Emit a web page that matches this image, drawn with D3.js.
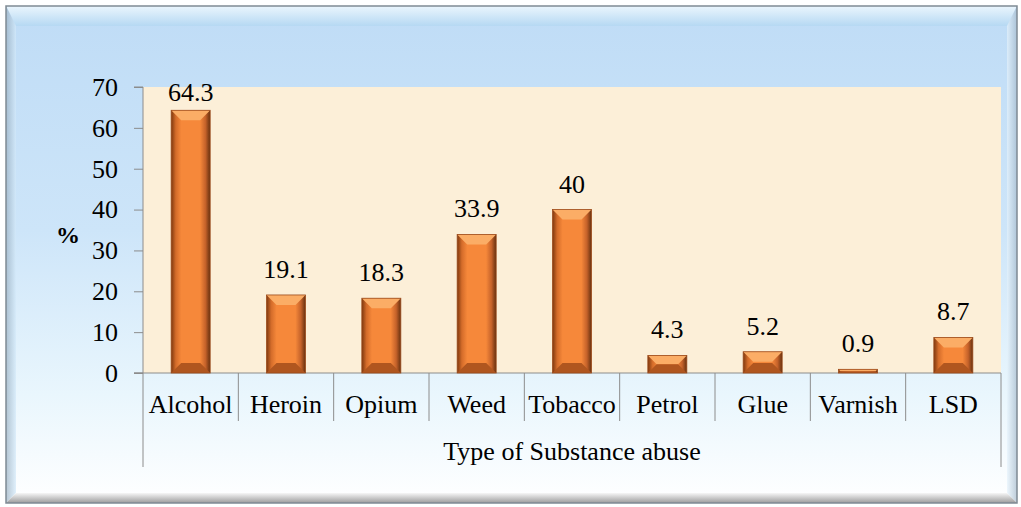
<!DOCTYPE html>
<html>
<head>
<meta charset="utf-8">
<script src="https://cdn.jsdelivr.net/npm/d3@7"></script>
<style>
  body { margin: 0; background: #fff; }
  text { font-family: "Liberation Serif", "Times New Roman", serif; fill: #000; }
</style>
</head>
<body>
<svg id="chart" width="1021" height="507"></svg>
<script>
// data
var categories = ["Alcohol", "Heroin", "Opium", "Weed", "Tobacco", "Petrol", "Glue", "Varnish", "LSD"];
var values = [64.3, 19.1, 18.3, 33.9, 40, 4.3, 5.2, 0.9, 8.7];
var yTicks = [0, 10, 20, 30, 40, 50, 60, 70];

var margin = {left: 143, right: 1001, top: 87, bottom: 373};
var fontSize = "26px";

var svg = d3.select("#chart");
var defs = svg.append("defs");

// outer background: blue on top fading to white
var bg = defs.append("linearGradient").attr("id", "bg").attr("x1", 0).attr("y1", 0).attr("x2", 0).attr("y2", 1);
bg.append("stop").attr("offset", "0").attr("stop-color", "#bfdcf6");
bg.append("stop").attr("offset", "0.45").attr("stop-color", "#cde5f9");
bg.append("stop").attr("offset", "0.78").attr("stop-color", "#e9f6fd");
bg.append("stop").attr("offset", "1").attr("stop-color", "#ffffff");

// bevel edges of the frame
var topEdge = defs.append("linearGradient").attr("id", "topEdge").attr("x1", 0).attr("y1", 0).attr("x2", 0).attr("y2", 1);
topEdge.append("stop").attr("offset", "0").attr("stop-color", "#f2fafe");
topEdge.append("stop").attr("offset", "1").attr("stop-color", "#b4d8f2");
var leftEdge = defs.append("linearGradient").attr("id", "leftEdge").attr("x1", 0).attr("y1", 0).attr("x2", 1).attr("y2", 0);
leftEdge.append("stop").attr("offset", "0").attr("stop-color", "#98aec0");
leftEdge.append("stop").attr("offset", "1").attr("stop-color", "#d4eafa");
var rightEdge = defs.append("linearGradient").attr("id", "rightEdge").attr("x1", 0).attr("y1", 0).attr("x2", 1).attr("y2", 0);
rightEdge.append("stop").attr("offset", "0").attr("stop-color", "#e6f3fc");
rightEdge.append("stop").attr("offset", "1").attr("stop-color", "#a3b8ca");
var botEdge = defs.append("linearGradient").attr("id", "botEdge").attr("x1", 0).attr("y1", 0).attr("x2", 0).attr("y2", 1);
botEdge.append("stop").attr("offset", "0").attr("stop-color", "#f6f6f6");
botEdge.append("stop").attr("offset", "1").attr("stop-color", "#9c9c9c");

// bar gradient (horizontal, dark sides)
var barG = defs.append("linearGradient").attr("id", "barG").attr("x1", 0).attr("y1", 0).attr("x2", 1).attr("y2", 0);
barG.append("stop").attr("offset", "0").attr("stop-color", "#7e380f");
barG.append("stop").attr("offset", "0.12").attr("stop-color", "#d46c2a");
barG.append("stop").attr("offset", "0.26").attr("stop-color", "#f6883a");
barG.append("stop").attr("offset", "0.74").attr("stop-color", "#f6883a");
barG.append("stop").attr("offset", "0.88").attr("stop-color", "#c5622a");
barG.append("stop").attr("offset", "1").attr("stop-color", "#66300f");

var fx = 6, fy = 6, fw = 1011, fh = 497, b = 10;
svg.append("rect").attr("x", fx).attr("y", fy).attr("width", fw).attr("height", fh).attr("fill", "url(#bg)");
// frame bevels
svg.append("polygon").attr("points", [[fx, fy], [fx + fw, fy], [fx + fw - b, fy + b + 10], [fx + b, fy + b + 10]].join(" ")).attr("fill", "url(#topEdge)").attr("opacity", 0.85);
svg.append("polygon").attr("points", [[fx, fy], [fx + b, fy + b + 10], [fx + b, fy + fh - b], [fx, fy + fh]].join(" ")).attr("fill", "url(#leftEdge)").attr("opacity", 0.7);
svg.append("polygon").attr("points", [[fx + fw, fy], [fx + fw - b, fy + b + 10], [fx + fw - b, fy + fh - b], [fx + fw, fy + fh]].join(" ")).attr("fill", "url(#rightEdge)").attr("opacity", 0.7);
svg.append("polygon").attr("points", [[fx, fy + fh], [fx + b, fy + fh - b], [fx + fw - b, fy + fh - b], [fx + fw, fy + fh]].join(" ")).attr("fill", "url(#botEdge)");
svg.append("rect").attr("x", fx).attr("y", fy).attr("width", fw).attr("height", fh).attr("fill", "none").attr("stroke", "#7f8a94").attr("stroke-width", 1.5);

var x = d3.scaleBand().domain(categories).range([margin.left, margin.right]).paddingInner(0).paddingOuter(0);
var y = d3.scaleLinear().domain([0, 70]).range([margin.bottom, margin.top]);

// plot area
svg.append("rect").attr("x", margin.left).attr("y", margin.top)
  .attr("width", margin.right - margin.left).attr("height", margin.bottom - margin.top)
  .attr("fill", "#fcefd8");

// y axis
var axisColor = "#8c8c8c";
var yAxis = svg.append("g").attr("transform", "translate(" + margin.left + ",0)")
  .call(d3.axisLeft(y).tickValues(yTicks).tickSize(9).tickPadding(16).tickFormat(d3.format("d")));
yAxis.select(".domain").attr("stroke", axisColor).attr("d", "M-9," + y(70) + "H0V" + y(0) + "H-9");
yAxis.selectAll(".tick line").attr("stroke", axisColor);
yAxis.selectAll("text").style("font-size", fontSize).style("font-family", "Liberation Serif");

svg.append("text").attr("x", 68).attr("y", 243).attr("text-anchor", "middle")
  .style("font-size", "24px").style("font-weight", "bold").text("%");

// x axis: baseline, separators, labels
svg.append("line").attr("x1", margin.left - 9).attr("x2", margin.right).attr("y1", y(0)).attr("y2", y(0)).attr("stroke", axisColor);
var seps = categories.map(function(c) { return x(c); }).concat([margin.right]);
svg.selectAll(".sep").data(seps).enter().append("line").attr("class", "sep")
  .attr("x1", function(d) { return d; }).attr("x2", function(d) { return d; })
  .attr("y1", y(0))
  .attr("y2", function(d, i) { return (i === 0 || i === seps.length - 1) ? 467 : 421; })
  .attr("stroke", axisColor);
svg.selectAll(".xl").data(categories).enter().append("text").attr("class", "xl")
  .attr("x", function(d) { return x(d) + x.bandwidth() / 2; }).attr("y", 413)
  .attr("text-anchor", "middle").style("font-size", fontSize).text(function(d) { return d; });
svg.append("text").attr("x", (margin.left + margin.right) / 2).attr("y", 460)
  .attr("text-anchor", "middle").style("font-size", fontSize).text("Type of Substance abuse");

// bars
var bw = 39, bev = 10;
var bars = svg.selectAll(".bar").data(values).enter().append("g").attr("class", "bar")
  .attr("transform", function(d, i) { return "translate(" + (x(categories[i]) + x.bandwidth() / 2 - bw / 2) + ",0)"; });
bars.append("rect").attr("x", 0).attr("width", bw)
  .attr("y", function(d) { return y(d); })
  .attr("height", function(d) { return y(0) - y(d); })
  .attr("fill", "url(#barG)");
// top bevel, lighter
bars.append("polygon").attr("points", function(d) {
  var t = y(d), h = Math.min(bev, (y(0) - y(d)) / 2);
  return [[0, t], [bw, t], [bw - h, t + h], [h, t + h]].join(" ");
}).attr("fill", "#fbad66");
// bottom bevel, darker
bars.append("polygon").attr("points", function(d) {
  var t = y(0), h = Math.min(bev, (y(0) - y(d)) / 2);
  return [[0, t], [bw, t], [bw - h, t - h], [h, t - h]].join(" ");
}).attr("fill", "#b0561f");
bars.append("rect").attr("x", 0).attr("width", bw)
  .attr("y", function(d) { return y(d); })
  .attr("height", function(d) { return y(0) - y(d); })
  .attr("fill", "none").attr("stroke", "#9c4b1c").attr("stroke-width", 0.8);

// value labels
svg.selectAll(".vl").data(values).enter().append("text").attr("class", "vl")
  .attr("x", function(d, i) { return x(categories[i]) + x.bandwidth() / 2; })
  .attr("y", function(d) { return Math.max(y(d) - 17, 101); })
  .attr("text-anchor", "middle").style("font-size", fontSize)
  .text(function(d) { return d; });
</script>
</body>
</html>
